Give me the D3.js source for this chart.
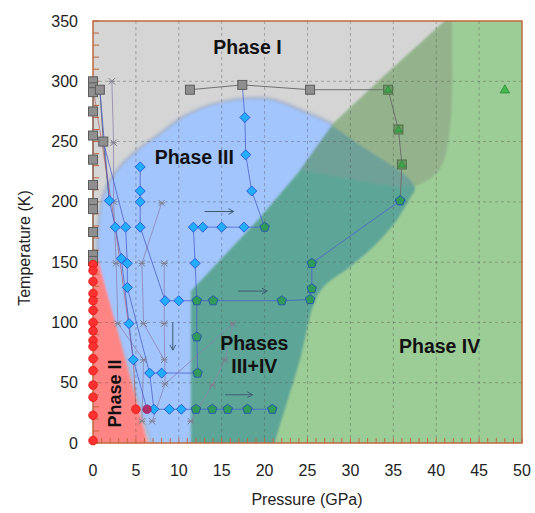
<!DOCTYPE html>
<html><head><meta charset="utf-8">
<script src="https://cdn.jsdelivr.net/npm/d3@7"></script>
<style>body{margin:0;background:#fff}svg{display:block}</style>
</head><body>
<svg id="chart" width="535" height="513"></svg>
<script>
// ---------- data ----------
const pressureTicks = [0,5,10,15,20,25,30,35,40,45,50];
const temperatureTicks = [0,50,100,150,200,250,300,350];

// phase region boundaries (GPa, K)
const phaseIIIBoundary = [[0.58,150],[0.70,168],[0.93,189],[1.40,206],[2.21,218],[3.73,232],[5.48,243],[7.81,255],[10.72,270],[13.64,279],[17.13,284],[20.63,284],[24.13,275],[27.62,264],[31.12,247],[34.62,231],[36.71,220],[37.53,211],[36.95,203],[35.43,185],[32.87,164],[29.95,146],[26.81,129],[25.64,113],[24.94,94],[24.13,69],[22.73,36],[21.21,0],[20.9,-12]];
const phaseIIIClose = [[7.4,-12]];
const phaseIVBoundary = [[41.3,352],[34,305],[28,265],[24,225],[19.2,185],[11.4,126],[11.4,-2],[52,-2],[52,352]];
const phaseIExtension = [[41.84,355],[41.84,284],[41.49,254],[40.79,232],[39.63,221],[37.9,214],[36.2,212.5],[33,215],[30,219],[27,223],[24,227],[20,236],[16,262]];
const phaseIExtensionClose = [[12,355]];
const phaseIIBoundary = [[-1,157],[0.6,152],[6.45,-2],[-1,-2]];

// measured points
const phaseISquares = [[0,300],[0,295],[0,291],[0,275],[0,255],[0,235],[0,214],[0,199],[0,194],[0,175],[0,156],[0,151],[0.8,293],[1.2,250],[11.3,293],[17.4,297],[25.3,293]];
const mixedSquares = [[34.4,293],[35.6,260],[36.0,231]];
const phaseIVTriangles = [[48.0,293]];
const phaseIIIDiamonds = [[1.9,201],[2.6,179],[3.8,179],[5.5,179],[5.5,200],[5.5,209],[5.5,229],[3.3,153],[4.0,149],[4.0,129],[4.2,99],[4.7,69],[6.6,58],[8.0,58],[8.4,118],[10.0,118],[11.9,149],[11.7,179],[12.8,179],[15.0,179],[17.6,179],[18.5,209],[17.8,239],[17.7,270],[7.1,28],[8.9,28],[10.3,28],[35.8,201]];
const mixedPentagons = [[20.0,179],[12.1,118],[14.0,118],[22.0,118],[25.3,119],[25.5,128],[25.5,149],[12.1,88],[12.2,58],[12.0,28],[13.9,28],[15.7,28],[18.0,28],[20.9,28],[35.8,201]];
const phaseIICircles = [[0,148],[0,143],[0,134],[0,124],[0,118],[0,110],[0,100],[0,93],[0,85],[0,80],[0,70],[0,60],[0,48],[0,38],[0,23],[0,2],[5.0,28]];
const mixedCircles = [[6.3,28]];
const crossPoints = [[2.2,300],[2.4,249],[2.4,200],[8.0,199],[2.7,149],[5.7,149],[8.3,149],[2.9,99],[5.9,99],[8.3,99],[5.9,69],[8.3,69],[8.4,49],[5.7,18],[6.9,18],[11.4,18],[13.9,48],[15.4,69],[16.3,99]];

// measurement paths
const bluePaths = [
  [[0.8,293],[1.9,201],[2.6,179],[3.3,153],[4.2,99],[4.7,69],[6.3,28]],
  [[1.2,250],[3.8,179],[4.0,149],[4.0,129],[6.6,58],[7.1,28],[8.9,28],[10.3,28],[12.0,28],[13.9,28],[15.7,28],[18.0,28],[20.9,28]],
  [[5.5,229],[5.5,209],[5.5,200],[5.5,179],[8.4,118],[10.0,118],[12.1,118],[14.0,118],[22.0,118],[25.3,119],[25.5,128],[25.5,149],[35.8,201]],
  [[6.6,58],[8.0,58],[12.2,58],[12.1,88],[12.1,118]],
  [[17.4,297],[17.7,270],[17.8,239],[18.5,209],[20.0,179],[17.6,179],[15.0,179],[12.8,179],[11.7,179],[11.9,149],[12.1,118]]
];
const grayPaths = [
  [[11.3,293],[17.4,297],[25.3,293],[34.4,293],[35.6,260],[36.0,231],[35.8,201]],
  [[0,300],[0.8,293],[1.2,250],[1.9,201]],
  [[0,300],[0,151]]
];
const redPaths = [[[0,295],[2.6,179],[4.7,69],[5.0,28]]];
const crossPaths = [
  [[2.2,300],[2.4,249],[2.4,200],[2.7,149],[2.9,99],[5.9,69],[5.7,18]],
  [[8.0,199],[5.7,149],[5.9,99],[8.3,69]],
  [[8.3,149],[8.3,99],[8.4,49],[6.9,18]],
  [[8.4,49],[16.3,99]],
  [[11.4,18],[13.9,48],[15.4,69],[16.3,99]]
];
const arrows = [[[13.0,192],[16.4,192]],[[16.9,126],[20.3,126]],[[15.4,40],[18.6,40]],[[9.3,100],[9.3,77]]];

const phaseLabels = [
  {text:"Phase I", p:18.0, t:323},
  {text:"Phase III", p:11.8, t:231},
  {text:"Phases", p:18.8, t:77},
  {text:"III+IV", p:18.8, t:58},
  {text:"Phase IV", p:40.4, t:75}
];
const rotatedLabel = {text:"Phase II", p:2.6, t:41};

// ---------- drawing ----------
const W=535,H=513, L=93,R=522,T=21,B=443;
const svg=d3.select("#chart");
const x=d3.scaleLinear().domain([0,50]).range([L,R]);
const y=d3.scaleLinear().domain([0,350]).range([B,T]);
const lin=d3.line().x(d=>x(d[0])).y(d=>y(d[1]));
const smooth=d3.line().x(d=>x(d[0])).y(d=>y(d[1])).curve(d3.curveCatmullRom.alpha(0.5));
const closeWith=(pts)=>pts.map(d=>`L${x(d[0])},${y(d[1])}`).join("")+"Z";

const defs=svg.append("defs");
defs.append("clipPath").attr("id","plotClip").append("rect").attr("x",L).attr("y",T).attr("width",R-L).attr("height",B-T);
const bluePathD=smooth(phaseIIIBoundary)+closeWith(phaseIIIClose);
const greenPathD=lin(phaseIVBoundary)+"Z";
const blobPathD=smooth(phaseIExtension)+closeWith(phaseIExtensionClose);
defs.append("clipPath").attr("id","greenClip").append("path").attr("d",greenPathD);
defs.append("clipPath").attr("id","blueClip").append("path").attr("d",bluePathD);
const f=defs.append("filter").attr("id","soft").attr("x","-5%").attr("y","-5%").attr("width","110%").attr("height","110%");
f.append("feGaussianBlur").attr("stdDeviation",0.8);
const f2=defs.append("filter").attr("id","blur2").attr("x","-5%").attr("y","-5%").attr("width","110%").attr("height","110%");
f2.append("feGaussianBlur").attr("stdDeviation",1.6);

const plot=svg.append("g").attr("clip-path","url(#plotClip)");
plot.append("rect").attr("x",L).attr("y",T).attr("width",R-L).attr("height",B-T).attr("fill","#d5d5d5");
const regions=plot.append("g").attr("filter","url(#soft)");
regions.append("path").attr("d",bluePathD).attr("fill","none").attr("stroke","#8fa6cc").attr("stroke-width",5).attr("opacity",0.8).attr("filter","url(#blur2)");
regions.append("path").attr("d",bluePathD).attr("fill","#a2c5fd");
regions.append("path").attr("d",greenPathD).attr("fill","#9dcd97");
const gIn=regions.append("g").attr("clip-path","url(#greenClip)");
gIn.append("path").attr("d",blobPathD).attr("fill","#94b38d");
gIn.append("path").attr("d",bluePathD).attr("fill","#5da697");
gIn.append("g").attr("clip-path","url(#blueClip)").append("path").attr("d",blobPathD).attr("fill","#70a198");
regions.append("path").attr("d",lin(phaseIIBoundary)+"Z").attr("fill","#ff8585");

// grid
const grid=plot.append("g").attr("stroke","rgba(80,80,80,0.5)").attr("stroke-width",0.8).attr("stroke-dasharray","3,3");
pressureTicks.slice(1,-1).forEach(p=>grid.append("line").attr("x1",x(p)).attr("x2",x(p)).attr("y1",T).attr("y2",B));
temperatureTicks.slice(1,-1).forEach(t=>grid.append("line").attr("y1",y(t)).attr("y2",y(t)).attr("x1",L).attr("x2",R));

// axes frame & ticks
const axisCol="#c0683f";
const ax=svg.append("g").attr("stroke",axisCol);
d3.range(0,51,1).forEach(p=>ax.append("line").attr("x1",x(p)).attr("x2",x(p)).attr("y1",B).attr("y2",B-5).attr("stroke-width",1));
d3.range(0,351,10).forEach(t=>ax.append("line").attr("y1",y(t)).attr("y2",y(t)).attr("x1",L).attr("x2",L+6).attr("stroke-width",1));
svg.append("rect").attr("x",L).attr("y",T).attr("width",R-L).attr("height",B-T).attr("fill","none").attr("stroke",axisCol).attr("stroke-width",1.5);

// paths
const lines=svg.append("g").attr("fill","none");
grayPaths.forEach(p=>lines.append("path").attr("d",lin(p)).attr("stroke","#707070").attr("stroke-width",1));
redPaths.forEach(p=>lines.append("path").attr("d",lin(p)).attr("stroke","#b05050").attr("stroke-width",0.8).attr("opacity",0.8));
crossPaths.forEach(p=>lines.append("path").attr("d",lin(p)).attr("stroke","#8b7fa8").attr("stroke-width",0.9).attr("opacity",0.85));
bluePaths.forEach(p=>lines.append("path").attr("d",lin(p)).attr("stroke","#4a5ccc").attr("stroke-width",0.9).attr("opacity",0.85));

// arrows
const ar=svg.append("g").attr("stroke","#3f5a70").attr("stroke-width",1).attr("fill","none");
arrows.forEach(a=>{
  const [x1,y1]=[x(a[0][0]),y(a[0][1])],[x2,y2]=[x(a[1][0]),y(a[1][1])];
  ar.append("line").attr("x1",x1).attr("y1",y1).attr("x2",x2).attr("y2",y2);
  const ang=Math.atan2(y2-y1,x2-x1),h=6,s=0.5;
  ar.append("path").attr("d",`M${x2-h*Math.cos(ang-s)},${y2-h*Math.sin(ang-s)}L${x2},${y2}L${x2-h*Math.cos(ang+s)},${y2-h*Math.sin(ang+s)}`);
});

// markers
const mk=svg.append("g");
crossPoints.forEach(d=>{
  const cx=x(d[0]),cy=y(d[1]),r=3.2;
  mk.append("path").attr("d",`M${cx-r},${cy-r}L${cx+r},${cy+r}M${cx-r},${cy+r}L${cx+r},${cy-r}M${cx-r},${cy}L${cx+r},${cy}`).attr("stroke","#7d7d8c").attr("stroke-width",1).attr("fill","none");
});
const sq=(d,fill,stroke)=>mk.append("rect").attr("x",x(d[0])-4.5).attr("y",y(d[1])-4.5).attr("width",9).attr("height",9).attr("fill",fill).attr("stroke",stroke).attr("stroke-width",1);
phaseISquares.forEach(d=>sq(d,"#8f8f8f","#5c5c5c"));
mixedSquares.forEach(d=>sq(d,"#6f9a68","#4f6f4a"));
const tri=(d,r)=>{const cx=x(d[0]),cy=y(d[1]);return `M${cx},${cy-r}L${cx+r*0.95},${cy+r*0.65}L${cx-r*0.95},${cy+r*0.65}Z`;};
mixedSquares.forEach(d=>mk.append("path").attr("d",tri(d,4)).attr("fill","#3ea44c").attr("stroke","#2c7a36").attr("stroke-width",0.6));
phaseIVTriangles.forEach(d=>mk.append("path").attr("d",tri(d,5)).attr("fill","#45b84f").attr("stroke","#2d8a37").attr("stroke-width",0.8));
phaseIIIDiamonds.forEach(d=>{const cx=x(d[0]),cy=y(d[1]),r=5;
  mk.append("path").attr("d",`M${cx},${cy-r}L${cx+r},${cy}L${cx},${cy+r}L${cx-r},${cy}Z`).attr("fill","#22aefc").attr("stroke","#2a5fe0").attr("stroke-width",1);});
mixedPentagons.forEach(d=>{const cx=x(d[0]),cy=y(d[1]),r=5;
  const pts=d3.range(5).map(k=>{const a=-Math.PI/2+k*2*Math.PI/5;return [cx+r*Math.cos(a),cy+r*Math.sin(a)];});
  mk.append("path").attr("d","M"+pts.map(p=>p.join(",")).join("L")+"Z").attr("fill","#2f9a5a").attr("stroke","#2a5aa8").attr("stroke-width",1);});
phaseIICircles.forEach(d=>mk.append("circle").attr("cx",x(d[0])).attr("cy",y(d[1])).attr("r",4.3).attr("fill","#ff3030").attr("stroke","#e01515").attr("stroke-width",0.8));
mixedCircles.forEach(d=>mk.append("circle").attr("cx",x(d[0])).attr("cy",y(d[1])).attr("r",4.3).attr("fill","#b0306a").attr("stroke","#8a2a7a").attr("stroke-width",0.8));

// phase labels
const fontF="'Liberation Sans', Arial, sans-serif";
phaseLabels.forEach(l=>svg.append("text").attr("x",x(l.p)).attr("y",y(l.t)).attr("text-anchor","middle").attr("font-family",fontF).attr("font-weight","bold").attr("font-size",19.5).attr("fill","#111").text(l.text));
svg.append("text").attr("transform",`translate(${x(rotatedLabel.p)+6},${y(rotatedLabel.t)}) rotate(-90)`).attr("text-anchor","middle").attr("font-family",fontF).attr("font-weight","bold").attr("font-size",18).attr("fill","#111").text(rotatedLabel.text);

// tick labels
pressureTicks.forEach(p=>svg.append("text").attr("x",x(p)).attr("y",476).attr("text-anchor","middle").attr("font-family",fontF).attr("font-size",16).attr("fill","#222").text(p));
temperatureTicks.forEach(t=>svg.append("text").attr("x",78).attr("y",y(t)+5.5).attr("text-anchor","end").attr("font-family",fontF).attr("font-size",16).attr("fill","#222").text(t));
svg.append("text").attr("x",307).attr("y",505).attr("text-anchor","middle").attr("font-family",fontF).attr("font-size",16).attr("fill","#222").text("Pressure (GPa)");
svg.append("text").attr("transform","translate(30,248) rotate(-90)").attr("text-anchor","middle").attr("font-family",fontF).attr("font-size",16).attr("fill","#222").text("Temperature (K)");
</script>
</body></html>
